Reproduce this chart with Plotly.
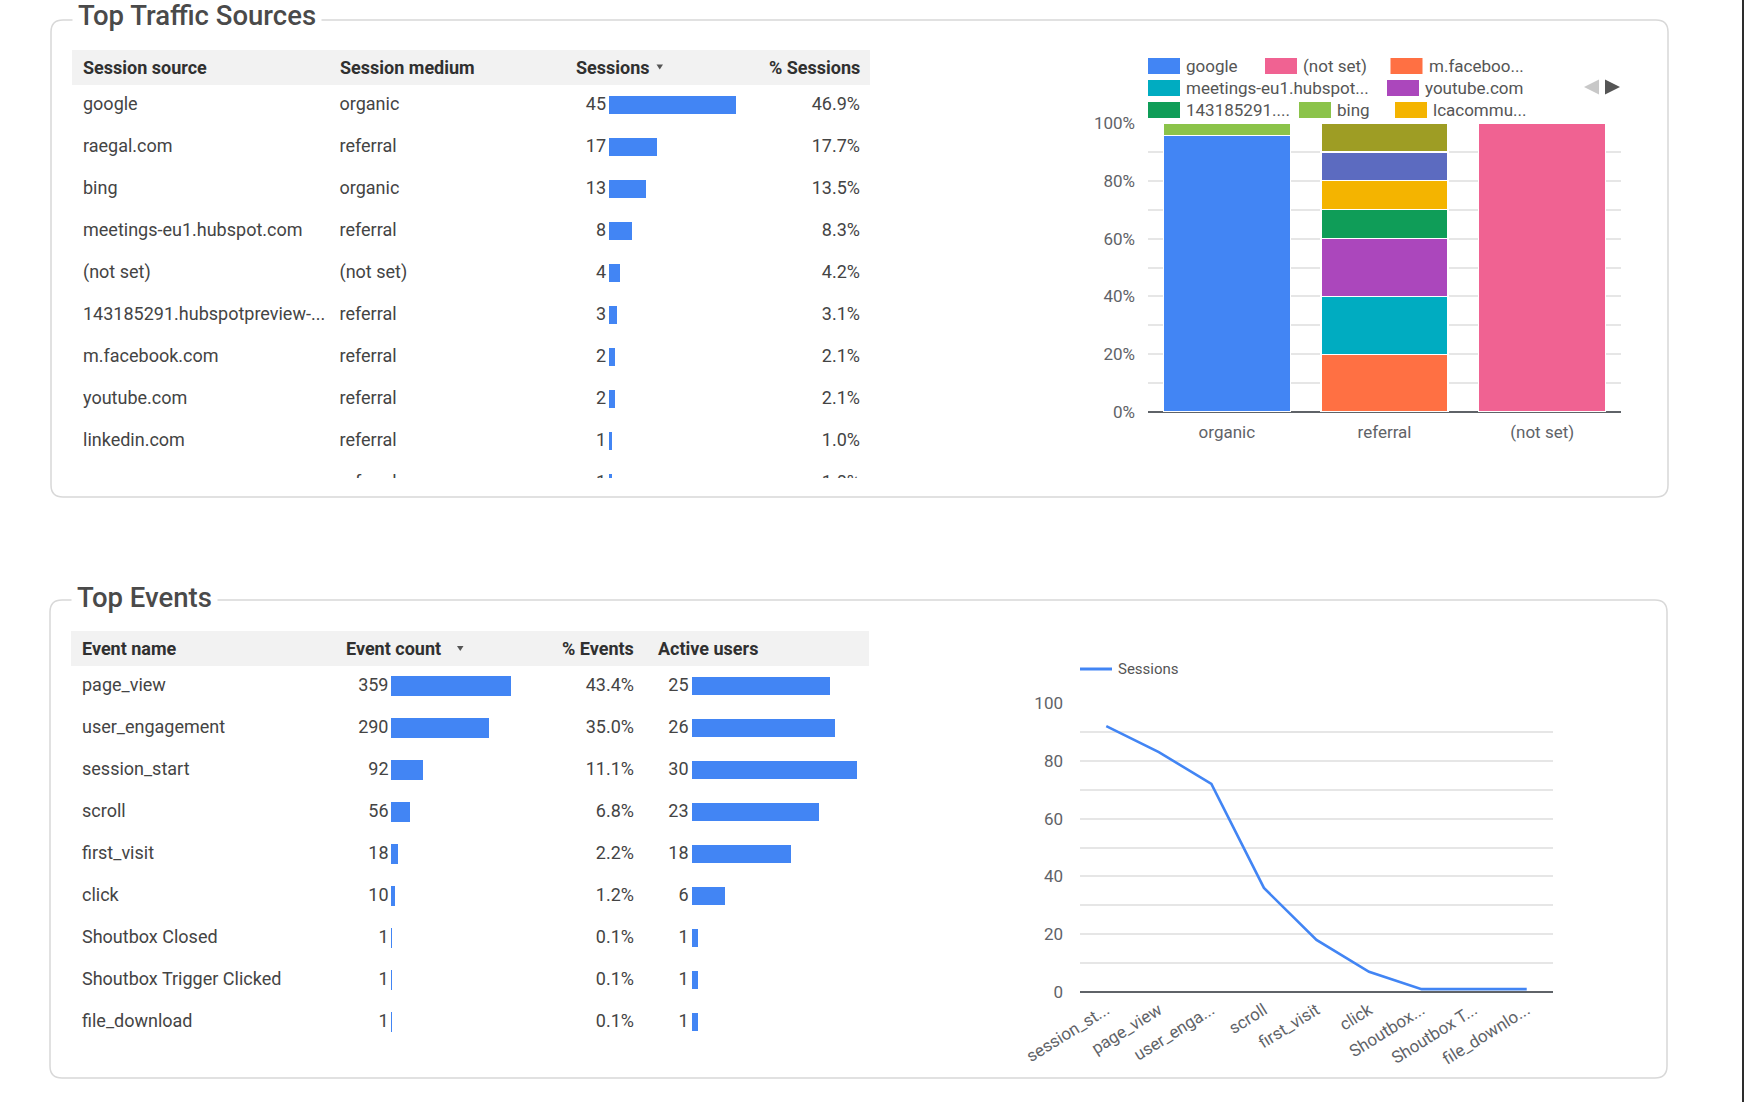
import plotly.graph_objects as go

W, H = 1744, 1102

# ---------------- data: Top Traffic Sources table ----------------
source_names = ["google", "raegal.com", "bing", "meetings-eu1.hubspot.com", "(not set)",
                "143185291.hubspotpreview-...", "m.facebook.com", "youtube.com", "linkedin.com",
                ""]  # 10th row is cut off in the view (label not readable)
source_mediums = ["organic", "referral", "organic", "referral", "(not set)", "referral",
                  "referral", "referral", "referral", "referral"]
source_sessions = [45, 17, 13, 8, 4, 3, 2, 2, 1, 1]
source_pct = ["46.9%", "17.7%", "13.5%", "8.3%", "4.2%", "3.1%", "2.1%", "2.1%", "1.0%", "1.0%"]

# ---------------- data: medium breakdown (100% stacked) ----------------
medium_categories = ["organic", "referral", "(not set)"]
stack_names = ["google", "(not set)", "m.facebook.com", "meetings-eu1.hubspot.com", "youtube.com",
               "143185291.hubspotpreview", "bing", "lcacommu", "raegal.com", "linkedin.com"]
stack_legend_labels = ["google", "(not set)", "m.faceboo...", "meetings-eu1.hubspot...", "youtube.com",
                       "143185291....", "bing", "lcacommu..."]
share_google = [95.7, None, None]
share_notset = [None, None, 100]
share_facebook = [None, 20, None]
share_meetings = [None, 20, None]
share_youtube = [None, 20, None]
share_143185291 = [None, 10, None]
share_bing = [4.3, None, None]
share_lcacommu = [None, 10, None]
share_raegal = [None, 10, None]
share_linkedin = [None, 10, None]
stack_values = [share_google, share_notset, share_facebook, share_meetings, share_youtube,
                share_143185291, share_bing, share_lcacommu, share_raegal, share_linkedin]
stack_colors = ["#4285f4", "#f06292", "#ff7043", "#00acc1", "#ab47bc",
                "#0f9d58", "#8bc34a", "#f4b400", "#5c6bc0", "#9e9d24"]

# ---------------- data: Top Events table ----------------
event_names = ["page_view", "user_engagement", "session_start", "scroll", "first_visit", "click",
               "Shoutbox Closed", "Shoutbox Trigger Clicked", "file_download"]
event_counts = [359, 290, 92, 56, 18, 10, 1, 1, 1]
event_pct = ["43.4%", "35.0%", "11.1%", "6.8%", "2.2%", "1.2%", "0.1%", "0.1%", "0.1%"]
active_users = [25, 26, 30, 23, 18, 6, 1, 1, 1]

# ---------------- data: sessions per event (line) ----------------
line_events = ["session_start", "page_view", "user_engagement", "scroll", "first_visit", "click",
               "Shoutbox Closed", "Shoutbox Trigger Clicked", "file_download"]
line_tick_labels = ["session_st...", "page_view", "user_enga...", "scroll", "first_visit", "click",
                    "Shoutbox...", "Shoutbox T...", "file_downlo..."]
line_sessions = [92, 83, 72, 36, 18, 7, 1, 1, 1]

# ---------------- styling ----------------
BLUE = "#4285f4"
TEXT = "#444444"
HEAD = "#303030"
FONT = "Roboto"
GRID = "#e6e6e6"


def px(x):
    return x / W


def py(y):
    return 1 - y / H


fig = go.Figure()


def text_col(xpix, texts, xa, ya, align="left", size=18, color=TEXT):
    fig.add_trace(go.Scatter(
        x=[xpix] * len(texts), y=list(range(len(texts))), mode="text", text=texts,
        textposition="middle right" if align == "left" else "middle left",
        textfont=dict(family=FONT, size=size, color=color),
        cliponaxis=True, hoverinfo="skip", showlegend=False, xaxis=xa, yaxis=ya))


# ---- top table ----
text_col(83, source_names, "x", "y")
text_col(339.5, source_mediums, "x", "y")
text_col(606, [str(v) for v in source_sessions], "x", "y", align="right")
text_col(860, source_pct, "x", "y", align="right")
fig.add_trace(go.Bar(x=source_sessions, y=list(range(len(source_sessions))), orientation="h",
                     width=0.43, marker=dict(color=BLUE, line=dict(width=0)),
                     xaxis="x2", yaxis="y", showlegend=False, hoverinfo="x"))

# ---- bottom table ----
text_col(82, event_names, "x3", "y3")
text_col(388.5, [str(v) for v in event_counts], "x3", "y3", align="right")
text_col(634, event_pct, "x3", "y3", align="right")
text_col(688.5, [str(v) for v in active_users], "x3", "y3", align="right")
fig.add_trace(go.Bar(x=event_counts, y=list(range(len(event_counts))), orientation="h",
                     width=0.43, marker=dict(color=BLUE, line=dict(color=BLUE, width=1.5)),
                     xaxis="x4", yaxis="y3", showlegend=False, hoverinfo="x"))
fig.add_trace(go.Bar(x=active_users, y=list(range(len(active_users))), orientation="h",
                     width=0.43, marker=dict(color=BLUE, line=dict(width=0)),
                     xaxis="x5", yaxis="y3", showlegend=False, hoverinfo="x"))

# ---- stacked 100% bars ----
for name, vals, col in zip(stack_names, stack_values, stack_colors):
    fig.add_trace(go.Bar(x=medium_categories, y=vals, name=name,
                         marker=dict(color=col, line=dict(color="white", width=1.2)),
                         xaxis="x6", yaxis="y6", showlegend=False))

# ---- line chart ----
fig.add_trace(go.Scatter(x=line_events, y=line_sessions, mode="lines", name="Sessions",
                         line=dict(color=BLUE, width=2.6), xaxis="x7", yaxis="y7",
                         showlegend=False))

hidden = dict(visible=False, fixedrange=True, showgrid=False, zeroline=False, automargin=False)

tick_font = dict(family=FONT, size=17, color="#5f6368")

fig.update_layout(
    width=W, height=H, margin=dict(l=0, r=0, t=0, b=0, pad=0, autoexpand=False),
    paper_bgcolor="white", plot_bgcolor="rgba(0,0,0,0)",
    barmode="stack", bargap=0.195, showlegend=False,
    xaxis=dict(domain=[0, 1], range=[0, W], anchor="y", **hidden),
    yaxis=dict(domain=[py(478), py(85)], range=[(478 - 105) / 42, (85 - 105) / 42], anchor="x", **hidden),
    xaxis2=dict(domain=[px(609), px(736)], range=[0, max(source_sessions)], anchor="y", **hidden),
    xaxis3=dict(domain=[0, 1], range=[0, W], anchor="y3", **hidden),
    yaxis3=dict(domain=[py(1070), py(666)], range=[(1070 - 686) / 42, (666 - 686) / 42], anchor="x3", **hidden),
    xaxis4=dict(domain=[px(391), px(511)], range=[0, max(event_counts)], anchor="y3", **hidden),
    xaxis5=dict(domain=[px(692), px(857)], range=[0, max(active_users)], anchor="y3", **hidden),
    xaxis6=dict(domain=[px(1148), px(1621)], anchor="y6", showgrid=False, zeroline=False,
                showline=False, ticks="", tickfont=tick_font, ticklabelstandoff=8,
                fixedrange=True, automargin=False),
    yaxis6=dict(domain=[py(412), py(123)], range=[0, 100], anchor="x6", dtick=20, ticksuffix="%",
                showgrid=True, gridcolor=GRID, gridwidth=1.5,
                minor=dict(dtick=10, showgrid=True, gridcolor=GRID, gridwidth=1.5),
                zeroline=True, zerolinecolor="#5f6368", zerolinewidth=2, showline=False,
                ticks="", tickfont=tick_font, ticklabelstandoff=12, fixedrange=True,
                automargin=False),
    xaxis7=dict(domain=[px(1080), px(1553)], anchor="y7", showgrid=False, zeroline=False,
                showline=False, ticks="", tickmode="array", tickvals=line_events,
                range=[-0.5, len(line_events) - 0.5],
                ticktext=line_tick_labels, tickangle=-32, tickfont=tick_font,
                ticklabelstandoff=4, fixedrange=True, automargin=False),
    yaxis7=dict(domain=[py(992), py(703)], range=[0, 100], anchor="x7", dtick=20,
                showgrid=True, gridcolor=GRID, gridwidth=1.5,
                minor=dict(dtick=10, showgrid=True, gridcolor=GRID, gridwidth=1.5),
                zeroline=True, zerolinecolor="#5f6368", zerolinewidth=2, showline=False,
                ticks="", tickfont=tick_font, ticklabelstandoff=16, fixedrange=True,
                automargin=False),
)

shapes = []


def rounded_box(x0, y0, x1, y1, r=12):
    X0, X1 = px(x0), px(x1)
    Y0, Y1 = py(y0), py(y1)
    rx, ry = r / W, r / H
    path = (f"M{X0 + rx},{Y0} L{X1 - rx},{Y0} Q{X1},{Y0} {X1},{Y0 - ry} "
            f"L{X1},{Y1 + ry} Q{X1},{Y1} {X1 - rx},{Y1} L{X0 + rx},{Y1} "
            f"Q{X0},{Y1} {X0},{Y1 + ry} L{X0},{Y0 - ry} Q{X0},{Y0} {X0 + rx},{Y0} Z")
    shapes.append(dict(type="path", path=path, xref="paper", yref="paper",
                       line=dict(color="#d8d8d8", width=1.5), fillcolor="rgba(0,0,0,0)", layer="below"))


def rect(x0, y0, x1, y1, color):
    shapes.append(dict(type="rect", xref="paper", yref="paper", x0=px(x0), x1=px(x1),
                       y0=py(y1), y1=py(y0), fillcolor=color, line=dict(width=0), layer="below"))


def tri(points, color):
    p = " L".join(f"{px(a)},{py(b)}" for a, b in points)
    shapes.append(dict(type="path", path=f"M{p} Z", xref="paper", yref="paper",
                       fillcolor=color, line=dict(width=0), layer="above"))


rounded_box(51, 20, 1668, 497)
rounded_box(50, 600, 1667, 1078)
rect(72, 50, 870, 85, "#f2f2f2")
rect(71, 631, 869, 666, "#f2f2f2")
rect(1742, 0, 1744, 1102, "#2d2d2d")

# sort indicators
tri([(656.5, 64.5), (663, 64.5), (659.75, 69.5)], "#555555")
tri([(457, 646), (463.5, 646), (460.25, 651)], "#555555")
# legend pager arrows
tri([(1599, 79.5), (1599, 94.5), (1584, 87)], "#c8c8c8")
tri([(1605, 79.5), (1605, 94.5), (1620, 87)], "#555555")

annotations = []


def label(x, y, text, anchor="left", size=18, color=TEXT, weight=None, bg=None, pad=1, family=FONT):
    f = dict(family=family, size=size, color=color)
    if weight:
        f["weight"] = weight
    a = dict(x=px(x), y=py(y), xref="paper", yref="paper", text=text, showarrow=False,
             xanchor=anchor, yanchor="middle", font=f, borderpad=pad)
    if bg:
        a["bgcolor"] = bg
    annotations.append(a)


# panel titles
label(72, 16, "Top Traffic Sources", size=27.5, color="#4a4a4a", weight=500, bg="white", pad=5)
label(71, 597, "Top Events", size=27.5, color="#4a4a4a", weight=500, bg="white", pad=5)

# table headers
for x, t, anc in [(81, "Session source", "left"), (337.5, "Session medium", "left"),
                  (573.5, "Sessions", "left"), (862, "% Sessions", "right")]:
    label(x, 67, t, anchor=anc, size=18, color=HEAD, weight=700)
for x, t, anc in [(80, "Event name", "left"), (344, "Event count", "left"),
                  (636, "% Events", "right"), (656, "Active users", "left")]:
    label(x, 648, t, anchor=anc, size=18, color=HEAD, weight=700)

# manual legend for the stacked chart (first page)
legend_slots = [(1148, 66), (1265, 66), (1390.5, 66),
                (1148, 88), (1387, 88),
                (1148, 110), (1299, 110), (1395, 110)]
for (lx, ly), lab, col in zip(legend_slots, stack_legend_labels, stack_colors):
    rect(lx, ly - 8, lx + 32, ly + 8, col)
    label(lx + 36, ly, lab, size=17, color="#555555")

# legend for the line chart
shapes.append(dict(type="line", xref="paper", yref="paper", x0=px(1080), x1=px(1112),
                   y0=py(669), y1=py(669), line=dict(color=BLUE, width=3)))
label(1116, 669, "Sessions", size=15, color="#555555")

fig.update_layout(shapes=shapes, annotations=annotations)

fig.write_html("out.html", config={"displayModeBar": False},
               post_script="document.body.style.margin='0';document.body.style.overflow='hidden';")
